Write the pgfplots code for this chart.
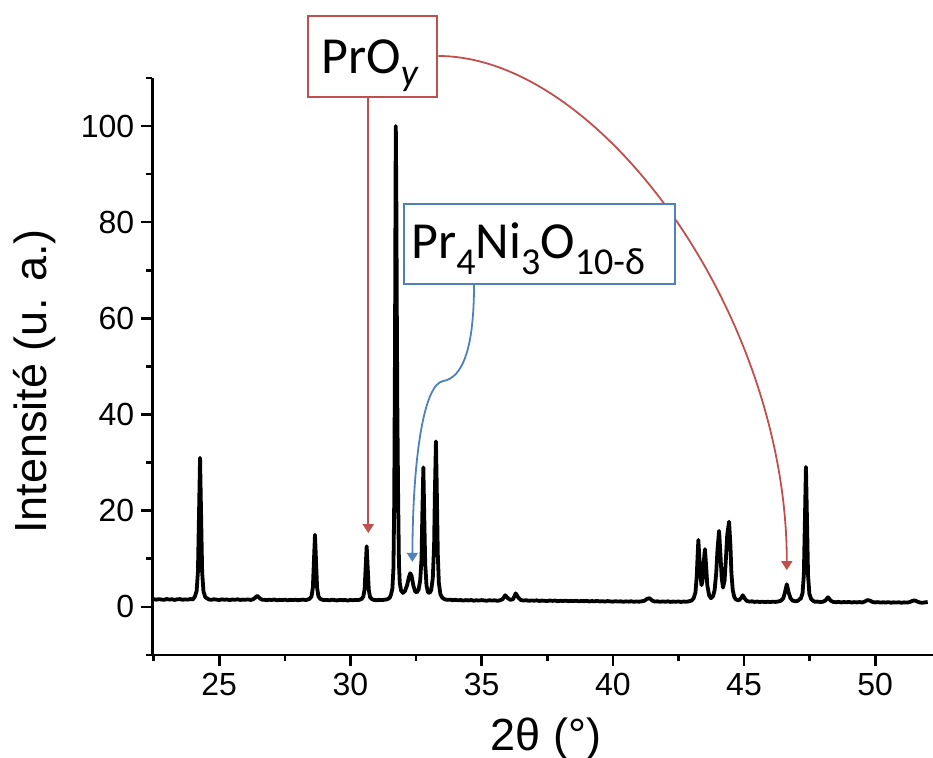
\documentclass[border=0pt]{standalone}
\usepackage{fontspec}
\setmainfont{Liberation Sans}
\newfontfamily\calibrifont{Carlito}
\usepackage{pgfplots}
\usepackage{pgfplotstable}
\pgfplotsset{compat=1.18}
\usetikzlibrary{arrows.meta}
\definecolor{pred}{RGB}{192,80,77}
\definecolor{pblue}{RGB}{79,129,189}

\pgfplotstableread{
x y
22.45 1.55
22.5 1.62
22.6 1.48
22.7 1.60
22.8 1.52
22.9 1.45
23.0 1.63
23.1 1.50
23.2 1.58
23.3 1.44
23.4 1.56
23.5 1.61
23.6 1.47
23.7 1.55
23.8 1.50
23.9 1.62
24.0 1.55
24.07 2.1
24.14 3.3
24.19 7.4
24.23 19.2
24.27 31.0
24.31 19.0
24.35 7.2
24.40 3.2
24.47 2.0
24.6 1.55
24.7 1.45
24.8 1.58
24.9 1.50
25.0 1.42
25.1 1.56
25.2 1.48
25.3 1.53
25.4 1.40
25.5 1.52
25.6 1.46
25.7 1.57
25.8 1.43
25.9 1.50
26.0 1.47
26.1 1.55
26.2 1.42
26.3 1.60
26.35 1.8
26.45 2.3
26.55 1.75
26.65 1.45
26.7 1.50
26.8 1.38
26.9 1.48
27.0 1.42
27.1 1.52
27.2 1.36
27.3 1.45
27.4 1.40
27.5 1.50
27.6 1.35
27.7 1.46
27.8 1.40
27.9 1.48
28.0 1.38
28.1 1.45
28.2 1.50
28.3 1.42
28.4 1.55
28.45 1.7
28.52 2.2
28.57 4.1
28.61 9.6
28.65 15.0
28.69 9.5
28.73 4.0
28.78 2.2
28.85 1.65
28.95 1.45
29.0 1.38
29.1 1.45
29.2 1.35
29.3 1.48
29.4 1.40
29.5 1.33
29.6 1.45
29.7 1.38
29.8 1.42
29.9 1.30
30.0 1.44
30.1 1.37
30.2 1.45
30.3 1.40
30.42 1.62
30.49 2.1
30.54 3.6
30.58 8.1
30.62 12.6
30.66 8.0
30.70 3.5
30.75 2.0
30.82 1.6
30.9 1.42
31.0 1.38
31.1 1.45
31.2 1.40
31.3 1.48
31.4 1.55
31.5 1.9
31.55 2.6
31.6 3.8
31.64 8
31.67 22
31.70 55
31.72 88
31.73 100
31.75 85
31.77 60
31.79 40
31.82 22
31.85 9
31.88 5
31.93 3.4
32.0 2.9
32.08 3.3
32.16 4.5
32.23 6.2
32.28 7.0
32.33 6.5
32.40 4.4
32.47 3.2
32.53 3.0
32.60 3.6
32.66 5.5
32.71 10
32.74 19
32.78 29
32.81 20
32.85 9
32.90 4.4
32.96 3.0
33.02 2.9
33.08 3.5
33.14 6
33.19 13
33.22 24
33.26 34.4
33.29 25
33.33 11
33.37 5
33.43 2.6
33.50 1.9
33.6 1.55
33.7 1.45
33.8 1.5
33.9 1.38
34.0 1.46
34.1 1.35
34.2 1.42
34.3 1.30
34.4 1.40
34.5 1.33
34.6 1.42
34.7 1.28
34.8 1.37
34.9 1.30
35.0 1.40
35.1 1.32
35.2 1.27
35.3 1.38
35.4 1.30
35.5 1.36
35.6 1.25
35.7 1.35
35.8 1.6
35.9 2.4
36.0 1.8
36.1 1.45
36.2 1.6
36.3 2.8
36.4 1.9
36.5 1.4
36.6 1.3
36.7 1.38
36.8 1.25
36.9 1.33
37.0 1.27
37.1 1.35
37.2 1.22
37.3 1.30
37.4 1.25
37.5 1.20
37.6 1.32
37.7 1.24
37.8 1.30
37.9 1.18
38.0 1.26
38.1 1.20
38.2 1.29
38.3 1.17
38.4 1.24
38.5 1.20
38.6 1.27
38.7 1.15
38.8 1.22
38.9 1.18
39.0 1.26
39.1 1.12
39.2 1.20
39.3 1.15
39.4 1.23
39.5 1.12
39.6 1.18
39.7 1.10
39.8 1.20
39.9 1.13
40.0 1.08
40.1 1.17
40.2 1.10
40.3 1.15
40.4 1.05
40.5 1.14
40.6 1.08
40.7 1.16
40.8 1.04
40.9 1.12
41.0 1.07
41.1 1.15
41.2 1.25
41.3 1.65
41.4 1.8
41.5 1.3
41.6 1.10
41.7 1.15
41.8 1.05
41.9 1.12
42.0 1.06
42.1 1.14
42.2 1.03
42.3 1.10
42.4 1.05
42.5 1.12
42.6 1.02
42.7 1.10
42.8 1.06
42.9 1.15
43.0 1.3
43.08 1.8
43.15 3.0
43.20 6.5
43.23 10.5
43.26 13.9
43.30 10.0
43.34 6.5
43.38 4.5
43.42 5.5
43.46 9
43.51 12
43.55 9
43.60 4.5
43.67 2.4
43.74 1.8
43.82 2.2
43.88 3.5
43.94 7
43.99 12
44.05 15.8
44.10 11
44.15 6
44.20 4.0
44.26 5.5
44.31 10
44.36 15
44.43 17.7
44.48 13
44.52 7
44.57 3.5
44.63 2.0
44.70 1.5
44.8 1.35
44.9 1.9
44.95 2.4
45.02 1.8
45.1 1.25
45.2 1.08
45.3 1.15
45.4 1.02
45.5 1.10
45.6 1.0
45.7 1.08
45.8 0.98
45.9 1.06
46.0 1.0
46.1 1.08
46.2 1.02
46.3 1.12
46.4 1.25
46.5 1.8
46.56 3.0
46.63 4.7
46.70 3.0
46.77 1.8
46.85 1.3
46.95 1.15
47.05 1.25
47.12 1.6
47.16 1.7
47.23 2.8
47.28 6.7
47.32 17.9
47.36 29.1
47.40 18
47.44 6.6
47.49 2.7
47.56 1.6
47.65 1.2
47.7 1.05
47.8 1.1
47.9 1.0
48.0 1.05
48.1 1.3
48.2 2.0
48.3 1.3
48.4 1.02
48.5 0.95
48.6 1.05
48.7 0.92
48.8 1.0
48.9 0.95
49.0 1.02
49.1 0.9
49.2 0.98
49.3 0.92
49.4 1.0
49.5 0.9
49.6 1.1
49.7 1.4
49.8 1.3
49.9 1.0
50.0 0.92
50.1 0.98
50.2 0.88
50.3 0.95
50.4 0.9
50.5 0.97
50.6 0.86
50.7 0.94
50.8 0.88
50.9 0.95
51.0 0.85
51.1 0.93
51.2 0.88
51.3 0.96
51.4 1.2
51.5 1.35
51.6 1.1
51.7 0.9
51.8 0.85
51.9 0.93
52.0 1.0
}\xrd

\begin{document}
\begin{tikzpicture}
\begin{axis}[
  scale only axis, width=390.2pt, height=288.4pt,
  xmin=22.45, xmax=52.2, ymin=-10, ymax=110,
  axis lines=left,
  x axis line style={-}, y axis line style={-},
  axis line style={line width=1.3pt, black},
  tick align=outside,
  xtick={25,30,...,50}, ytick={0,20,...,100},
  minor xtick={22.5,27.5,...,47.5}, minor ytick={-10,10,...,110},
  major tick length=5.5pt, minor tick length=3pt,
  every tick/.style={black, line width=1.3pt},
  tick label style={font=\fontsize{16}{19}\selectfont},
  /pgf/number format/assume math mode=true,
  xlabel={2θ (°)}, ylabel={Intensité (u. a.)},
  every axis x label/.style={at={(axis description cs:0.5045,-0.1659)}, anchor=base, font=\fontsize{22.5}{27}\selectfont},
  every axis y label/.style={at={(axis description cs:-0.1353,0.474)}, anchor=base, rotate=90, font=\fontsize{22.5}{27}\selectfont},
  clip=false,
]
\addplot[black, line width=1.9pt, line join=round] table[x=x,y=y]{\xrd};

% PrOy annotation
\draw[pred, line width=0.9pt, -{Triangle[length=4.5pt,width=5.5pt]}] (axis cs:30.68,105.97) -- (axis cs:30.68,15.33);
\draw[pred, line width=0.9pt, -{Triangle[length=4.5pt,width=5.5pt]}] (axis cs:33.35,114.56) .. controls (axis cs:39.51,114.56) and (axis cs:46.64,60.68) .. (axis cs:46.63,7.63);
\draw[pred, line width=1pt, fill=white] (axis cs:28.395,105.97) rectangle (axis cs:33.311,122.88);
\node[anchor=base west, inner sep=0pt] at (axis cs:28.879,110.96) {\calibrifont\fontsize{26}{30}\selectfont PrO\raisebox{-6pt}{\fontsize{19}{22}\selectfont\itshape y}};

% Pr4Ni3O10 annotation
\draw[pblue, line width=0.9pt, -{Triangle[length=4.5pt,width=5.5pt]}] (axis cs:34.71,66.92) .. controls (axis cs:34.71,53.40) and (axis cs:34.25,47.58) .. (axis cs:33.53,46.95) .. controls (axis cs:32.84,46.33) and (axis cs:32.385,32.60) .. (axis cs:32.36,9.36);
\draw[pblue, line width=1pt, fill=white] (axis cs:32.042,67.07) rectangle (axis cs:42.37,83.71);
\node[anchor=base west, inner sep=0pt] at (axis cs:32.309,72.48) {\calibrifont\fontsize{26}{30}\selectfont Pr\raisebox{-8pt}{\fontsize{19}{22}\selectfont 4}Ni\raisebox{-8pt}{\fontsize{19}{22}\selectfont 3}O\raisebox{-8pt}{\fontsize{19}{22}\selectfont 10-δ}};

\coordinate (BL) at (axis cs:16.646,-31.27);
\coordinate (TR) at (axis cs:52.202,126.21);
\end{axis}
\pgfresetboundingbox
\path[use as bounding box] (BL) rectangle (TR);
\end{tikzpicture}
\end{document}
